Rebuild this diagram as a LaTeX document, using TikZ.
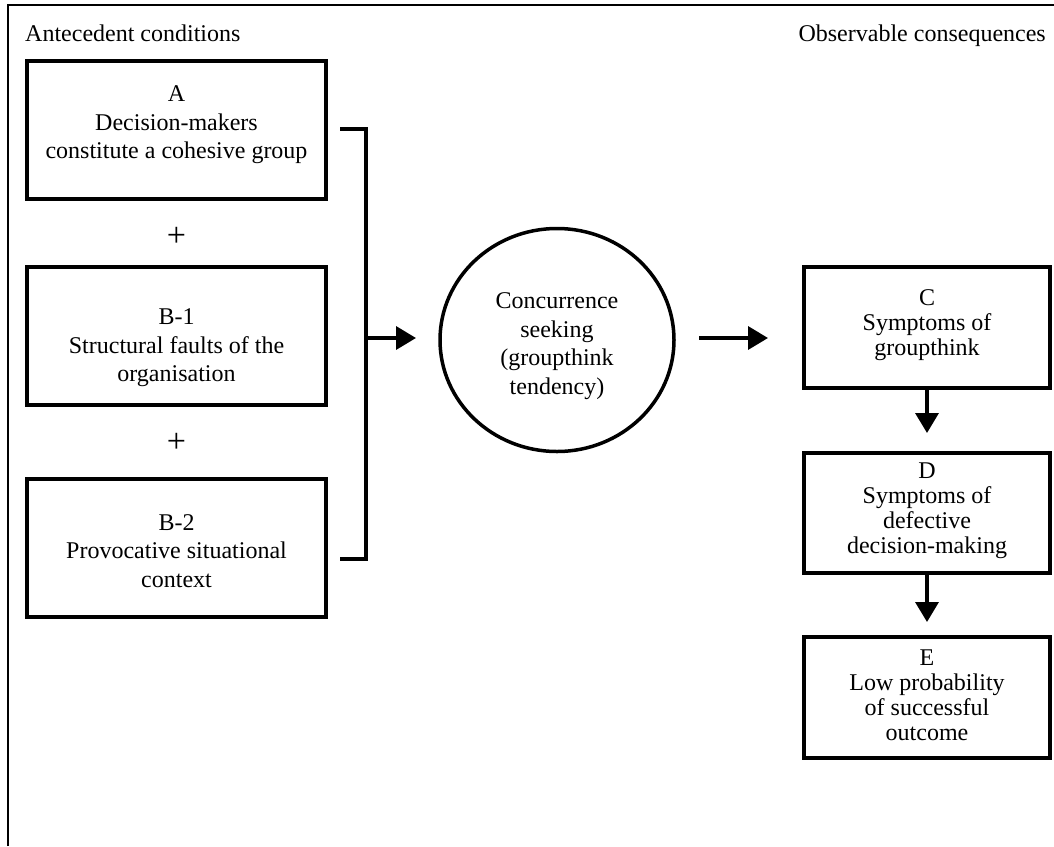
\documentclass[tikz,border=0pt]{standalone}
\usepackage{fontspec}
\setmainfont{Liberation Serif}
\usetikzlibrary{arrows.meta,shapes.geometric}
\begin{document}
\begin{tikzpicture}[x=1pt,y=-1pt,
  box/.style={draw, line width=4pt, inner sep=0pt, outer sep=0pt},
  rbox/.style={box, minimum width=299pt, minimum height=138pt},
  lbox/.style={box, minimum width=246pt},
  txt/.style={align=center, font=\fontsize{24}{28.5}\selectfont, inner sep=0pt},
  rtxt/.style={align=center, font=\fontsize{24}{25}\selectfont, inner sep=0pt},
  plus/.style={font=\fontsize{34}{34}\selectfont, inner sep=0pt},
  conn/.style={line width=3.5pt, line join=miter},
  arr/.style={line width=3.5pt, -{Triangle[length=20pt,width=23pt]}},
]
\useasboundingbox (0,0) rectangle (1054,846);
\draw[line width=2pt] (8,846) -- (8,5) -- (1054,5);

\node[txt, anchor=base west] (hl) at (25,41) {Antecedent conditions};
\node[txt, anchor=base east] (hr) at (1046,41) {Observable consequences};

% left boxes
\node[rbox] (A)  at (176.5,130) {};
\node[rbox] (B1) at (176.5,336) {};
\node[rbox] (B2) at (176.5,548) {};
\node[txt] (At)  at (176.5,125) {A\\Decision-makers\\constitute a cohesive group};
\node[txt] (B1t) at (176.5,348) {B-1\\Structural faults of the\\organisation};
\node[txt] (B2t) at (176.5,551) {B-2\\Provocative situational\\context};
\node[plus] (p1) at (176.5,237) {+};
\node[plus] (p2) at (176.5,443) {+};

% circle
\node[draw, ellipse, line width=3.5pt, inner sep=0pt, outer sep=0pt,
      minimum width=234pt, minimum height=223pt] (cs) at (557,340) {};
\node[txt] (cst) at (557,346) {Concurrence\\seeking\\(groupthink\\tendency)};

% right boxes
\node[lbox, minimum height=121pt] (C) at (927,327.5) {};
\node[lbox, minimum height=120pt] (D) at (927,513) {};
\node[lbox, minimum height=121pt] (E) at (927,697.5) {};
\node[rtxt] (Ct) at (927,325) {C\\Symptoms of\\groupthink};
\node[rtxt] (Dt) at (927,510.5) {D\\Symptoms of\\defective\\decision-making};
\node[rtxt] (Et) at (927,695.5) {E\\Low probability\\of successful\\outcome};

% bracket
\coordinate (aS) at (340,129);
\coordinate (aT) at (366,129);
\coordinate (bT) at (366,559);
\coordinate (bS) at (340,559);
\coordinate (mid) at (366,338);
\draw[conn] (aS) -- (aT) -- (bT) -- (bS);
\draw[arr, shorten >=24pt] (mid) -- (mid -| cs.west);

\draw[arr, shorten <=25pt, shorten >=36pt] (cs.east |- mid) -- (C.west |- mid);
\draw[arr, shorten >=20pt] (C.south) -- (D.north);
\draw[arr, shorten >=15pt] (D.south) -- (E.north);
\end{tikzpicture}
\end{document}
